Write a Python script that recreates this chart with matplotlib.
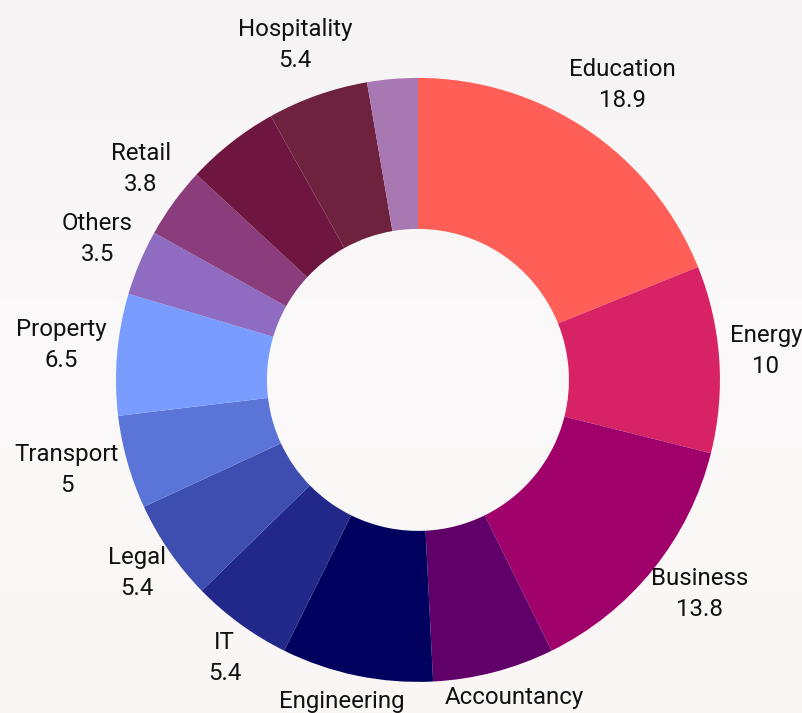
import matplotlib.pyplot as plt
import numpy as np

# sectors, clockwise from 12 o'clock
sectors = ["Education", "Energy", "Business", "Accountancy", "Engineering", "IT",
           "Legal", "Transport", "Property", "Others", "Retail", "", "Hospitality", ""]
shares = [18.9, 10, 13.8, 6.5, 8.1, 5.4, 5.4, 5.0, 6.5, 3.5, 3.8, 5.0, 5.4, 2.7]
colors = ["#ff5f57", "#d72365", "#a0006a", "#62006a", "#00005f", "#22288a",
          "#3d4db0", "#5a74d8", "#789cff", "#8f6cc2", "#8b3c7c", "#6e1640",
          "#6e223e", "#a878b2"]

plt.rcParams['font.family'] = ['Roboto', 'DejaVu Sans']

fig = plt.figure(figsize=(8.03, 7.13), dpi=100)
fig.patch.set_facecolor("#f8f5f6")
ax = fig.add_axes([0, 0, 1, 1])
ax.set_facecolor("none")

# soft pale background wash
bg = np.linspace(0, 1, 200).reshape(-1, 1)
ax.imshow(bg, extent=[-1.384, 1.275, -1.103, 1.258], aspect="auto",
          cmap=plt.matplotlib.colors.LinearSegmentedColormap.from_list(
              "bg", ["#f6f3f5", "#fbf9f9", "#faf6f5"]), origin="upper", zorder=0)

wedges, _ = ax.pie(shares, colors=colors, startangle=90, counterclock=False,
                   radius=1.0, wedgeprops=dict(width=0.5, linewidth=0))
for w in wedges:
    w.set_zorder(2)

ax.set_xlim(-1.384, 1.275)
ax.set_ylim(-1.103, 1.258)
ax.set_aspect("equal")
ax.axis("off")

# labels on two lines outside the ring, pushed out from an anchor point
fig.canvas.draw()
renderer = fig.canvas.get_renderer()
inv = ax.transData.inverted()
total = sum(shares)
start = 0.0
r_anchor = 1.035
for name, val in zip(sectors, shares):
    mid = start + val / total * 360 / 2   # clockwise from north
    start += val / total * 360
    if not name:
        continue
    th = np.deg2rad(mid)
    x0, y0 = r_anchor * np.sin(th), r_anchor * np.cos(th)
    t = ax.text(x0, y0, f"{name}\n{val:g}", ha="center", va="center",
                fontsize=17.3, color="#111111", linespacing=1.45, zorder=3)
    bb = t.get_window_extent(renderer)
    (ax_, ay_), (bx_, by_) = inv.transform([[bb.x0, bb.y0], [bb.x1, bb.y1]])
    w, h = bx_ - ax_, (by_ - ay_) * 1.38
    t.set_position((x0 + w / 2 * np.sin(th), y0 + h / 2 * np.cos(th) + 0.017))

fig.savefig("out.png", dpi=100, facecolor=fig.get_facecolor())
